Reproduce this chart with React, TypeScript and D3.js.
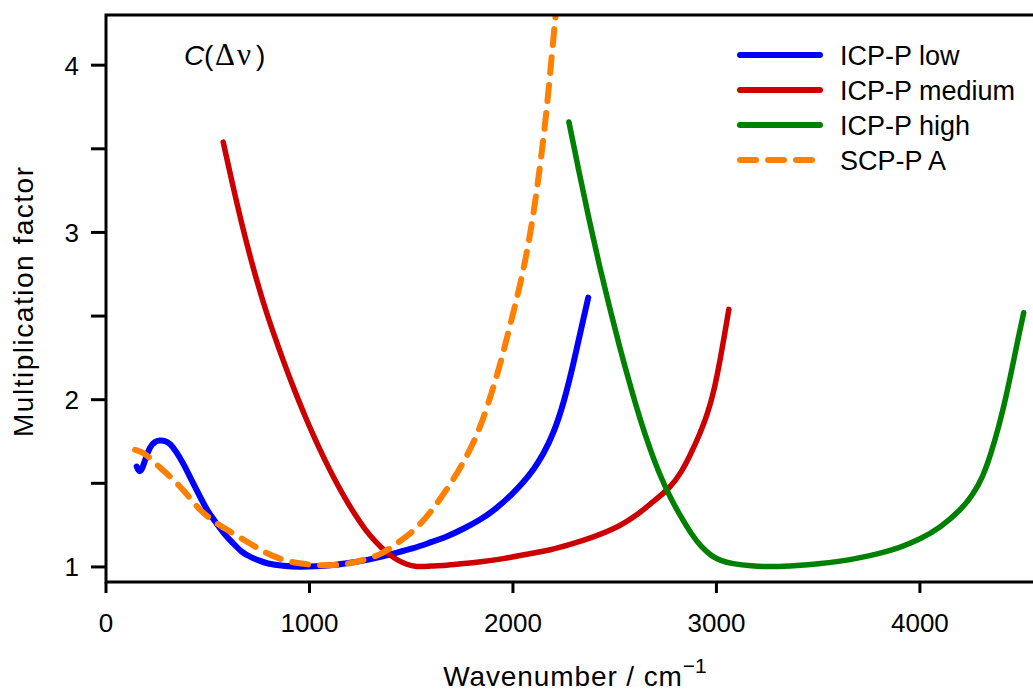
import React from "react";
import * as d3 from "d3";

// Multiplication factor C(Δν) versus wavenumber for the calibration procedures
const lowWavenumber = [151, 160, 167, 178, 192, 216, 240, 265, 290, 314, 345, 380, 420, 462, 500, 544, 585, 626, 665, 708, 750, 790, 870, 953, 1030, 1115, 1200, 1281, 1350, 1410, 1509, 1590, 1674, 1760, 1838, 1920, 2000, 2050, 2100, 2150, 2200, 2250, 2300, 2340, 2370];
const lowFactor = [1.60, 1.575, 1.57, 1.585, 1.64, 1.72, 1.75, 1.757, 1.755, 1.74, 1.69, 1.62, 1.52, 1.42, 1.33, 1.26, 1.19, 1.14, 1.09, 1.06, 1.04, 1.02, 1.005, 1.0, 1.003, 1.01, 1.025, 1.04, 1.06, 1.08, 1.11, 1.145, 1.18, 1.23, 1.28, 1.35, 1.44, 1.505, 1.58, 1.675, 1.80, 1.98, 2.23, 2.45, 2.61];

const mediumWavenumber = [576, 625, 675, 725, 775, 825, 875, 925, 975, 1025, 1075, 1125, 1175, 1225, 1275, 1325, 1375, 1425, 1475, 1525, 1590, 1674, 1760, 1838, 1936, 2084, 2180, 2270, 2400, 2521, 2610, 2688, 2771, 2830, 2872, 2920, 2955, 2990, 3020, 3040, 3061];
const mediumFactor = [3.54, 3.27, 3.01, 2.78, 2.57, 2.39, 2.22, 2.06, 1.91, 1.77, 1.64, 1.52, 1.41, 1.31, 1.22, 1.15, 1.09, 1.045, 1.015, 1.0, 1.005, 1.01, 1.02, 1.03, 1.045, 1.08, 1.10, 1.13, 1.18, 1.24, 1.31, 1.39, 1.47, 1.57, 1.67, 1.80, 1.91, 2.06, 2.25, 2.39, 2.54];

const highWavenumber = [2275, 2325, 2375, 2425, 2475, 2525, 2575, 2625, 2675, 2725, 2775, 2825, 2875, 2925, 2975, 3025, 3075, 3170, 3273, 3400, 3500, 3600, 3700, 3800, 3900, 4000, 4100, 4200, 4260, 4310, 4350, 4390, 4420, 4450, 4480, 4510];
const highFactor = [3.66, 3.36, 3.07, 2.80, 2.55, 2.31, 2.09, 1.88, 1.70, 1.54, 1.41, 1.30, 1.20, 1.12, 1.065, 1.035, 1.02, 1.005, 1.0, 1.008, 1.018, 1.032, 1.053, 1.08, 1.115, 1.165, 1.235, 1.34, 1.43, 1.54, 1.68, 1.85, 2.0, 2.17, 2.35, 2.52];

const scpWavenumber = [143, 170, 200, 250, 298, 340, 380, 420, 462, 500, 544, 625, 708, 790, 870, 950, 1035, 1120, 1199, 1280, 1361, 1428, 1510, 1592, 1674, 1756, 1838, 1911, 1950, 1985, 2043, 2092, 2133, 2166, 2190, 2210, 2225, 2240];
const scpFactor = [1.70, 1.69, 1.67, 1.61, 1.56, 1.51, 1.46, 1.40, 1.34, 1.30, 1.26, 1.20, 1.14, 1.08, 1.04, 1.02, 1.01, 1.01, 1.02, 1.045, 1.08, 1.14, 1.21, 1.32, 1.46, 1.62, 1.82, 2.10, 2.27, 2.44, 2.72, 3.03, 3.39, 3.73, 4.05, 4.30, 4.50, 4.70];

const xTicks = [0, 1000, 2000, 3000, 4000];
const yTicks = [1, 2, 3, 4];
const yMinorTicks = [1.5, 2.5, 3.5];

const seriesNames = ["ICP-P low", "ICP-P medium", "ICP-P high", "SCP-P A"];
const seriesColors = ["#0000ff", "#cc0000", "#008000", "#ff8000"];

const W = 1033;
const H = 693;
const left = 106;
const top = 15;
const bottom = 582;
const FONT = "'Liberation Sans', Arial, Helvetica, sans-serif";
const SERIF = "'Liberation Serif', 'Times New Roman', serif";

export default function App() {
  const x = d3.scaleLinear().domain([0, 4600]).range([left, 1042]);
  const y = d3.scaleLinear().domain([0.91, 4.3]).range([bottom, top]);

  const line = d3
    .line<[number, number]>()
    .x((d) => x(d[0]))
    .y((d) => y(d[1]))
    .curve(d3.curveBasis);

  const zip = (a: number[], b: number[]) => a.map((v, i) => [v, b[i]] as [number, number]);

  const series = [
    { pts: zip(lowWavenumber, lowFactor), width: 6, dash: undefined as string | undefined },
    { pts: zip(mediumWavenumber, mediumFactor), width: 5.5, dash: undefined },
    { pts: zip(highWavenumber, highFactor), width: 5.5, dash: undefined },
    { pts: zip(scpWavenumber, scpFactor), width: 6, dash: "16 12" },
  ];

  const legendY = [55, 90, 125, 160];

  return (
    <svg
      width={W}
      height={H}
      style={{ position: "absolute", left: 0, top: 0, background: "#fff" }}
      fontFamily={FONT}
    >
      <defs>
        <clipPath id="plot-clip">
          <rect x={left} y={top} width={W - left} height={bottom - top} />
        </clipPath>
      </defs>

      {/* curves */}
      <g clipPath="url(#plot-clip)">
        {series.map((s, i) => (
          <path
            key={i}
            d={line(s.pts) || ""}
            fill="none"
            stroke={seriesColors[i]}
            strokeWidth={s.width}
            strokeDasharray={s.dash}
            strokeLinecap="round"
            strokeLinejoin="round"
          />
        ))}
      </g>

      {/* frame */}
      <path
        d={`M${W + 10},${top} H${left} V${bottom} H${W + 10}`}
        fill="none"
        stroke="#000"
        strokeWidth={3}
      />

      {/* x axis */}
      {xTicks.map((t) => (
        <g key={t}>
          <line x1={x(t)} x2={x(t)} y1={bottom} y2={bottom + 11} stroke="#000" strokeWidth={3} />
          <text x={x(t)} y={632} textAnchor="middle" fontSize={26}>
            {t}
          </text>
        </g>
      ))}

      {/* y axis */}
      {yTicks.map((t) => (
        <g key={t}>
          <line x1={left - 15} x2={left} y1={y(t)} y2={y(t)} stroke="#000" strokeWidth={3} />
          <text x={79} y={y(t) + 9.5} textAnchor="end" fontSize={26}>
            {t}
          </text>
        </g>
      ))}
      {yMinorTicks.map((t) => (
        <line key={t} x1={left - 15} x2={left} y1={y(t)} y2={y(t)} stroke="#000" strokeWidth={3} />
      ))}

      {/* axis titles */}
      <text
        transform="translate(33,302) rotate(-90)"
        textAnchor="middle"
        fontSize={28}
        textLength={270}
        lengthAdjust="spacing"
      >
        Multiplication factor
      </text>
      <text x={575} y={686} textAnchor="middle" fontSize={28}>
        <tspan letterSpacing={0.9}>Wavenumber / cm</tspan>
        <tspan fontSize={21} dy={-13}>−1</tspan>
      </text>

      {/* panel label */}
      <text y={65} fontSize={28}>
        <tspan x={184} fontStyle="italic">C</tspan>
        <tspan x={204}>(</tspan>
        <tspan x={215} fontFamily={SERIF} fontSize={31}>Δ</tspan>
        <tspan x={237} fontFamily={SERIF} fontSize={31}>ν</tspan>
        <tspan x={256}>)</tspan>
      </text>

      {/* legend */}
      {seriesNames.map((name, i) => (
        <g key={name}>
          <line
            x1={740}
            x2={i === 3 ? 814 : 820}
            y1={legendY[i]}
            y2={legendY[i]}
            stroke={seriesColors[i]}
            strokeWidth={6}
            strokeLinecap="round"
            strokeDasharray={i === 3 ? "16 12" : undefined}
          />
          <text x={840} y={legendY[i] + 10} fontSize={27}>
            {name}
          </text>
        </g>
      ))}
    </svg>
  );
}
